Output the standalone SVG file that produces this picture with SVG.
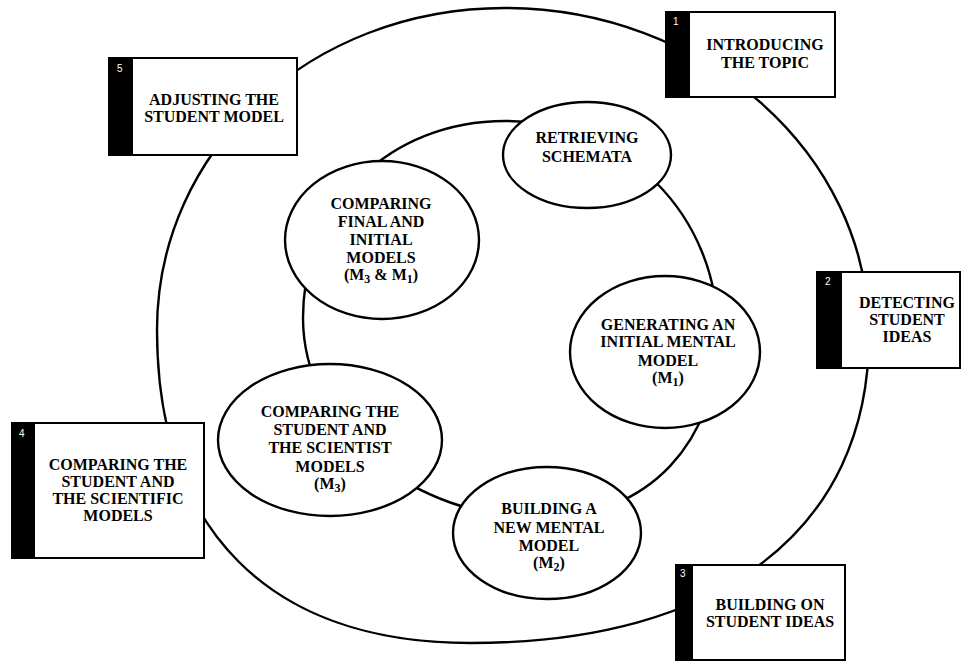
<svg xmlns="http://www.w3.org/2000/svg" width="961" height="663" viewBox="0 0 961 663">
<style>
.ring{fill:none;stroke:#000;stroke-width:2.4}
.ell{fill:#fff;stroke:#000;stroke-width:2.4}
.box{fill:#fff;stroke:#000;stroke-width:2}
.bar{fill:#000}
.t{font-family:"Liberation Serif","Times New Roman",serif;font-weight:bold;font-size:16px;fill:#000;text-anchor:middle}
.num{font-family:"Liberation Sans",Arial,sans-serif;font-size:10px;fill:#fff}
.sub{font-size:12px}
</style>
<rect width="961" height="663" fill="#fff"/>
<g id="connectors">
<path class="ring" d="M505,8 C700,8 869,150 869,335 C869,530 720,643 470,643 C270,643 157,530 157,330 C157,150 310,8 505,8 Z"/>
<path class="ring" d="M505,121 C625,121 718,215 718,335 C718,440 650,518 540,518 C415,518 303,430 303,318 C303,205 390,121 505,121 Z"/>
</g>
<g id="retrieving">
<ellipse class="ell" cx="587" cy="155" rx="84" ry="53"/>
<text class="t" x="587" y="143">RETRIEVING</text>
<text class="t" x="587" y="162">SCHEMATA</text>
</g>
<g id="generating">
<ellipse class="ell" cx="665" cy="352" rx="95" ry="76"/>
<text class="t" x="668" y="330">GENERATING AN</text>
<text class="t" x="668" y="347">INITIAL MENTAL</text>
<text class="t" x="668" y="366">MODEL</text>
<text class="t" x="668" y="383">(M<tspan class="sub" dy="3">1</tspan><tspan dy="-3">)</tspan></text>
</g>
<g id="building">
<ellipse class="ell" cx="547" cy="533" rx="94" ry="66"/>
<text class="t" x="549" y="514">BUILDING A</text>
<text class="t" x="549" y="533">NEW MENTAL</text>
<text class="t" x="549" y="551">MODEL</text>
<text class="t" x="549" y="568">(M<tspan class="sub" dy="3">2</tspan><tspan dy="-3">)</tspan></text>
</g>
<g id="comparing-student">
<ellipse class="ell" cx="330" cy="440" rx="112" ry="76"/>
<text class="t" x="330" y="417">COMPARING THE</text>
<text class="t" x="330" y="435">STUDENT AND</text>
<text class="t" x="330" y="453">THE SCIENTIST</text>
<text class="t" x="330" y="472">MODELS</text>
<text class="t" x="330" y="489">(M<tspan class="sub" dy="3">3</tspan><tspan dy="-3">)</tspan></text>
</g>
<g id="comparing-final">
<ellipse class="ell" cx="382" cy="240" rx="97" ry="79"/>
<text class="t" x="381" y="209">COMPARING</text>
<text class="t" x="381" y="227">FINAL AND</text>
<text class="t" x="381" y="245">INITIAL</text>
<text class="t" x="381" y="263">MODELS</text>
<text class="t" x="381" y="280">(M<tspan class="sub" dy="3">3</tspan><tspan dy="-3"> &amp; M</tspan><tspan class="sub" dy="3">1</tspan><tspan dy="-3">)</tspan></text>
</g>
<g id="box1">
<rect class="box" x="666" y="12" width="169" height="85"/>
<rect class="bar" x="666" y="12" width="24" height="85"/>
<text class="num" x="673" y="25">1</text>
<text class="t" x="765" y="50">INTRODUCING</text>
<text class="t" x="765" y="68">THE TOPIC</text>
</g>
<g id="box2">
<rect class="box" x="817" y="272" width="143" height="96"/>
<rect class="bar" x="817" y="272" width="25" height="96"/>
<text class="num" x="825" y="285">2</text>
<text class="t" x="907" y="308">DETECTING</text>
<text class="t" x="907" y="325">STUDENT</text>
<text class="t" x="907" y="342">IDEAS</text>
</g>
<g id="box3">
<rect class="box" x="676" y="565" width="169" height="95"/>
<rect class="bar" x="676" y="565" width="17" height="95"/>
<text class="num" x="680" y="577">3</text>
<text class="t" x="770" y="610">BUILDING ON</text>
<text class="t" x="770" y="627">STUDENT IDEAS</text>
</g>
<g id="box4">
<rect class="box" x="12" y="423" width="192" height="135"/>
<rect class="bar" x="12" y="423" width="23" height="135"/>
<text class="num" x="19" y="437">4</text>
<text class="t" x="118" y="470">COMPARING THE</text>
<text class="t" x="118" y="487">STUDENT AND</text>
<text class="t" x="118" y="504">THE SCIENTIFIC</text>
<text class="t" x="118" y="521">MODELS</text>
</g>
<g id="box5">
<rect class="box" x="109" y="58" width="188" height="97"/>
<rect class="bar" x="109" y="58" width="24" height="97"/>
<text class="num" x="117" y="72">5</text>
<text class="t" x="214" y="105">ADJUSTING THE</text>
<text class="t" x="214" y="122">STUDENT MODEL</text>
</g>
</svg>
